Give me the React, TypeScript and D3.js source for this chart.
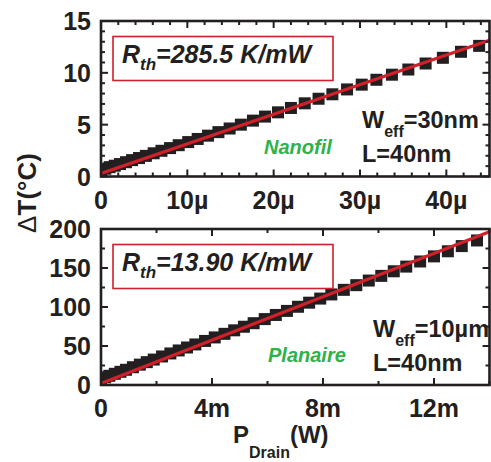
import React from "react";
import * as d3 from "d3";

// ---- Data ----
// Top panel (nanowire): P in µW, ΔT in °C
const nanoP = [0, 0.5, 1.0, 1.6, 2.2, 2.9, 3.6, 4.4, 5.2, 6.1, 7.0, 8.0, 9.0, 10.1, 11.2, 12.4, 13.6, 14.9, 16.2, 17.6, 19.0, 20.5, 22.0, 23.6, 25.2, 26.8, 28.5, 30.2, 31.9, 33.7, 35.6, 37.6, 39.6, 41.7, 43.8];
const nanoT = [0.6, 0.75, 0.9, 1.04, 1.2, 1.38, 1.58, 1.78, 1.99, 2.24, 2.48, 2.74, 3.02, 3.32, 3.62, 3.94, 4.28, 4.63, 5.0, 5.39, 5.78, 6.19, 6.61, 7.06, 7.5, 7.93, 8.4, 8.86, 9.33, 9.82, 10.32, 10.9, 11.45, 12.03, 12.6];
const nanoFit = { slope: 0.2855, intercept: 0.3 };

// Bottom panel (planar): P in mW, ΔT in °C
const planP = [0, 0.15, 0.3, 0.5, 0.7, 0.9, 1.15, 1.4, 1.65, 1.9, 2.2, 2.5, 2.8, 3.1, 3.4, 3.75, 4.1, 4.45, 4.8, 5.15, 5.5, 5.9, 6.3, 6.7, 7.1, 7.5, 7.9, 8.3, 8.75, 9.2, 9.65, 10.1, 10.55, 11.0, 11.5, 12.0, 12.5, 13.0, 13.55];
const planT = [8, 9.9, 11.8, 14.35, 16.9, 19.5, 22.8, 26.1, 29.3, 32.6, 36.6, 40.45, 44.3, 48.1, 52, 56.5, 61, 65.6, 70.1, 74.7, 79.25, 84.5, 89.8, 95, 100.3, 105.55, 110.8, 116.1, 122, 128, 133.9, 139.9, 145.8, 151.8, 158.35, 164.9, 171.45, 178.1, 185.3];
const planFit = { slope: 13.9, intercept: 2 };

const topXMajor = [0, 10, 20, 30, 40];
const topXLabels = ["0", "10µ", "20µ", "30µ", "40µ"];
const topYMajor = [0, 5, 10, 15];
const botXMajor = [0, 4, 8, 12];
const botXLabels = ["0", "4m", "8m", "12m"];
const botYMajor = [0, 50, 100, 150, 200];

const FONT = "'Liberation Sans', Arial, sans-serif";
const RED = "#d0202a";
const GREEN = "#2eb24a";

type PanelProps = {
  id: string;
  top: number;
  bottom: number;
  xDomain: [number, number];
  yDomain: [number, number];
  xMajor: number[];
  xLabels: string[];
  xMinorStep: number;
  yMajor: number[];
  yMinorStep: number;
  px: number[];
  py: number[];
  fit: { slope: number; intercept: number };
  rth: string;
  weff: string;
  tag: string;
  tagX: number;
  tagY: number;
  infoX: number;
  infoY: number;
  xLabelY: number;
};

const LEFT = 101;
const RIGHT = 489.5;

function Panel(p: PanelProps) {
  const x = d3.scaleLinear().domain(p.xDomain).range([LEFT, RIGHT]);
  const y = d3.scaleLinear().domain(p.yDomain).range([p.bottom, p.top]);
  const xMinor = d3.range(p.xDomain[0], p.xDomain[1] + 1e-9, p.xMinorStep).filter((v) => !p.xMajor.some((m) => Math.abs(m - v) < 1e-9));
  const yMinor = d3.range(p.yDomain[0], p.yDomain[1] + 1e-9, p.yMinorStep).filter((v) => !p.yMajor.some((m) => Math.abs(m - v) < 1e-9));
  const MAJ = 7;
  const MIN = 4;
  const line = d3.line<number>().x((v) => x(v)).y((v) => y(p.fit.intercept + p.fit.slope * v));
  const ms = 12;
  return (
    <g>
      <defs>
        <clipPath id={p.id + "clip"}>
          <rect x={LEFT} y={p.top} width={RIGHT - LEFT} height={p.bottom - p.top} />
        </clipPath>
      </defs>
      <g clipPath={`url(#${p.id}clip)`}>
        {p.px.map((v, i) => (
          <rect key={i} x={x(v) - ms / 2} y={y(p.py[i]) - ms / 2} width={ms} height={ms} fill="#231f20" />
        ))}
        <path d={line([p.xDomain[0], p.xDomain[1]]) || ""} stroke={RED} strokeWidth={3.2} fill="none" />
      </g>
      {p.xMajor.map((v) => (
        <g key={"xm" + v}>
          <line x1={x(v)} x2={x(v)} y1={p.bottom} y2={p.bottom - MAJ} stroke="#231f20" strokeWidth={2} />
          <line x1={x(v)} x2={x(v)} y1={p.top} y2={p.top + MAJ} stroke="#231f20" strokeWidth={2} />
        </g>
      ))}
      {xMinor.map((v) => (
        <g key={"xn" + v}>
          <line x1={x(v)} x2={x(v)} y1={p.bottom} y2={p.bottom - MIN} stroke="#231f20" strokeWidth={2} />
          <line x1={x(v)} x2={x(v)} y1={p.top} y2={p.top + MIN} stroke="#231f20" strokeWidth={2} />
        </g>
      ))}
      {p.yMajor.map((v) => (
        <g key={"ym" + v}>
          <line x1={LEFT} x2={LEFT + MAJ} y1={y(v)} y2={y(v)} stroke="#231f20" strokeWidth={2} />
          <line x1={RIGHT} x2={RIGHT - MAJ} y1={y(v)} y2={y(v)} stroke="#231f20" strokeWidth={2} />
        </g>
      ))}
      {yMinor.map((v) => (
        <g key={"yn" + v}>
          <line x1={LEFT} x2={LEFT + MIN} y1={y(v)} y2={y(v)} stroke="#231f20" strokeWidth={2} />
          <line x1={RIGHT} x2={RIGHT - MIN} y1={y(v)} y2={y(v)} stroke="#231f20" strokeWidth={2} />
        </g>
      ))}
      <rect x={LEFT} y={p.top} width={RIGHT - LEFT} height={p.bottom - p.top} fill="none" stroke="#231f20" strokeWidth={2.6} />
      {p.xMajor.map((v, i) => (
        <text key={"xl" + v} x={x(v)} y={p.xLabelY} textAnchor="middle" fontFamily={FONT} fontWeight="bold" fontSize={25} fill="#231f20">
          {p.xLabels[i]}
        </text>
      ))}
      {p.yMajor.map((v) => (
        <text key={"yl" + v} x={91} y={y(v)} dy="0.36em" textAnchor="end" fontFamily={FONT} fontWeight="bold" fontSize={25} fill="#231f20">
          {v}
        </text>
      ))}
      <rect x={113} y={p.top + 15.5} width={220} height={44} fill="#fff" stroke={RED} strokeWidth={1.6} />
      <text x={122} y={p.top + 42} fontFamily={FONT} fontWeight="bold" fontStyle="italic" fontSize={25} fill="#231f20">
        <tspan>R</tspan>
        <tspan fontSize={17} dy={7}>th</tspan>
        <tspan dy={-7}>{p.rth}</tspan>
      </text>
      <text x={p.tagX} y={p.tagY} fontFamily={FONT} fontWeight="bold" fontStyle="italic" fontSize={20} fill={GREEN}>
        {p.tag}
      </text>
      <text x={p.infoX} y={p.infoY} fontFamily={FONT} fontWeight="bold" fontSize={23.5} fill="#231f20">
        <tspan>W</tspan>
        <tspan fontSize={16} dy={9}>eff</tspan>
        <tspan dy={-9}>{p.weff}</tspan>
      </text>
      <text x={p.infoX} y={p.infoY + 34} fontFamily={FONT} fontWeight="bold" fontSize={23.5} fill="#231f20">
        L=40nm
      </text>
    </g>
  );
}

export default function App() {
  return (
    <svg width={491} height={462} style={{ position: "absolute", left: 0, top: 0, background: "#fff" }}>
      <rect x={0} y={0} width={491} height={462} fill="#fff" />
      <Panel
        id="top"
        top={21}
        bottom={176.5}
        xDomain={[0, 45]}
        yDomain={[0, 15]}
        xMajor={topXMajor}
        xLabels={topXLabels}
        xMinorStep={2}
        yMajor={topYMajor}
        yMinorStep={1}
        px={nanoP}
        py={nanoT}
        fit={nanoFit}
        rth="=285.5 K/mW"
        weff="=30nm"
        tag="Nanofil"
        tagX={264}
        tagY={154}
        infoX={362}
        infoY={128}
        xLabelY={209}
      />
      <Panel
        id="bot"
        top={229}
        bottom={385}
        xDomain={[0, 14]}
        yDomain={[0, 200]}
        xMajor={botXMajor}
        xLabels={botXLabels}
        xMinorStep={2}
        yMajor={botYMajor}
        yMinorStep={25}
        px={planP}
        py={planT}
        fit={planFit}
        rth="=13.90 K/mW"
        weff="=10µm"
        tag="Planaire"
        tagX={268}
        tagY={362}
        infoX={373}
        infoY={337}
        xLabelY={417}
      />
      <text transform="translate(36,193) rotate(-90)" textAnchor="middle" fontFamily={FONT} fontSize={26} fill="#231f20">
        <tspan fontWeight="normal">Δ</tspan>
        <tspan fontWeight="bold">T(°C)</tspan>
      </text>
      <text x={233} y={443} fontFamily={FONT} fontWeight="bold" fontSize={24} fill="#231f20">
        <tspan>P</tspan>
        <tspan fontSize={16} dy={15}>Drain</tspan>
        <tspan dy={-15}>(W)</tspan>
      </text>
    </svg>
  );
}
